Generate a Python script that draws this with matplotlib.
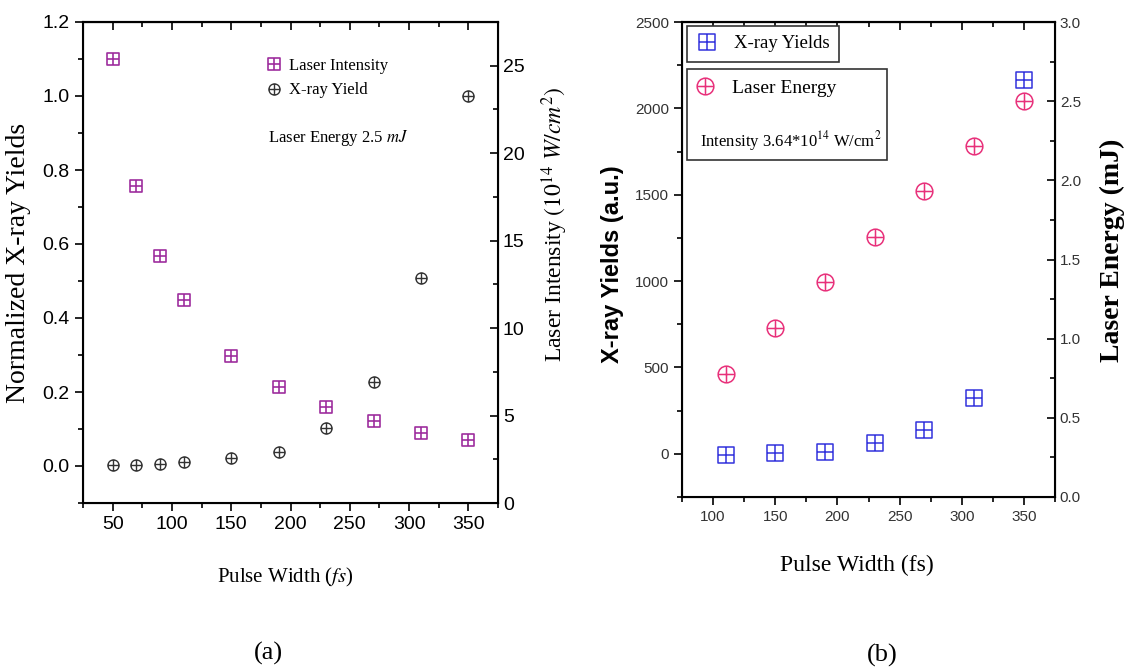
import matplotlib
matplotlib.use("Agg")
import matplotlib.pyplot as plt
from matplotlib.path import Path
from matplotlib.patches import Rectangle
from matplotlib.ticker import MultipleLocator

# (a) laser energy fixed at 2.5 mJ
pulse_a = [50, 70, 90, 110, 150, 190, 230, 270, 310, 350]
intensity_a = [25.4, 18.1, 14.1, 11.6, 8.4, 6.65, 5.5, 4.7, 4.0, 3.6]
yield_a = [0.003, 0.003, 0.005, 0.01, 0.021, 0.039, 0.104, 0.228, 0.509, 1.0]

# (b) intensity fixed at 3.64e14 W/cm2
pulse_b = [110, 150, 190, 230, 270, 310, 350]
yield_b = [-4, 2, 12, 60, 139, 324, 2167]
energy_b = [0.78, 1.07, 1.36, 1.64, 1.93, 2.22, 2.5]

SERIF = ["Liberation Serif", "DejaVu Serif"]
SANS = ["Liberation Sans", "DejaVu Sans"]
plt.rcParams["font.family"] = SERIF
plt.rcParams["mathtext.fontset"] = "stix"

M, L = Path.MOVETO, Path.LINETO
sq_plus = Path(
    [(-1, -1), (1, -1), (1, 1), (-1, 1), (-1, -1), (0, -1), (0, 1), (-1, 0), (1, 0)],
    [M, L, L, L, Path.CLOSEPOLY, M, L, M, L],
)
cross = Path([(0, -1), (0, 1), (-1, 0), (1, 0)], [M, L, M, L])
circ_plus = Path.make_compound_path(Path.unit_circle(), cross)

W, H = 1127, 670
fig = plt.figure(figsize=(W / 100, H / 100), dpi=100)


def rect(x0, y0, x1, y1):
    # pixel box -> figure fraction
    return [x0 / W, 1 - y1 / H, (x1 - x0) / W, (y1 - y0) / H]


def style_axes(ax, twin, xmaj, xmin, ymaj, ymin, y2maj, y2min, size, color):
    for sp in ax.spines.values():
        sp.set_linewidth(1.5)
    ax.xaxis.set_major_locator(MultipleLocator(xmaj))
    ax.xaxis.set_minor_locator(MultipleLocator(xmin))
    ax.yaxis.set_major_locator(MultipleLocator(ymaj))
    ax.yaxis.set_minor_locator(MultipleLocator(ymin))
    twin.yaxis.set_major_locator(MultipleLocator(y2maj))
    twin.yaxis.set_minor_locator(MultipleLocator(y2min))
    ax.tick_params(which="both", direction="out", top=False, width=1.2,
                   labelsize=size, labelcolor=color, labelfontfamily=SANS)
    ax.tick_params(which="major", length=6)
    ax.tick_params(which="minor", length=3.5)
    twin.tick_params(which="both", direction="in", width=1.2,
                     labelsize=size, labelcolor=color, labelfontfamily=SANS)
    twin.tick_params(which="major", length=6)
    twin.tick_params(which="minor", length=3.5)
    top = ax.secondary_xaxis("top")
    top.xaxis.set_major_locator(MultipleLocator(xmaj))
    top.xaxis.set_minor_locator(MultipleLocator(xmin))
    top.tick_params(which="both", direction="in", labeltop=False, width=1.2)
    top.tick_params(which="major", length=6)
    top.tick_params(which="minor", length=3.5)
    top.spines["top"].set_linewidth(1.5)


# ---------------- (a) ----------------
magenta = "#9E2F9E"
ax = fig.add_axes(rect(83, 22, 498, 503))
ax2 = ax.twinx()
ax.set_xlim(25, 375)
ax.set_ylim(-0.1, 1.2)
ax2.set_ylim(0, 27.5)
style_axes(ax, ax2, 50, 25, 0.2, 0.1, 5, 2.5, 14, "black")

h1, = ax2.plot(pulse_a, intensity_a, ls="none", marker=sq_plus, ms=9,
               mfc="none", mec=magenta, mew=1.2, label="Laser Intensity")
h2, = ax.plot(pulse_a, yield_a, ls="none", marker=circ_plus, ms=8,
              mfc="none", mec="#333333", mew=1.0, label="X-ray Yield")
ax2.legend([h1, h2], ["Laser Intensity", "X-ray Yield"], loc="upper left",
           bbox_to_anchor=(0.44, 0.925), frameon=False, borderpad=0,
           borderaxespad=0, handlelength=1.0, handletextpad=0.4,
           labelspacing=0.5, prop={"family": SERIF, "size": 12})
ax2.text(0.446, 0.759, "Laser Energy 2.5 $mJ$", transform=ax2.transAxes,
         ha="left", va="center", fontsize=12)

ax.set_ylabel("Normalized X-ray Yields", fontsize=20)
ax.yaxis.set_label_coords(-0.125, 0.5)
ax2.set_ylabel(r"Laser Intensity $(10^{14}\ W/cm^{2})$", fontsize=17)
ax2.yaxis.set_label_coords(1.1, 0.58)
ax.set_xlabel("Pulse Width ($fs$)", fontsize=15)
ax.xaxis.set_label_coords(0.487, -0.13)

# ---------------- (b) ----------------
blue = "#3333DD"
pink = "#E8307A"
bx = fig.add_axes(rect(682, 22, 1055, 497))
bx2 = bx.twinx()
bx.set_xlim(75, 375)
bx.set_ylim(-250, 2500)
bx2.set_ylim(0, 3.0)
style_axes(bx, bx2, 50, 25, 500, 250, 0.5, 0.25, 11, "#333333")

g1, = bx.plot(pulse_b, yield_b, ls="none", marker=sq_plus, ms=11,
              mfc="none", mec=blue, mew=1.1, label="X-ray Yields")
g2, = bx2.plot(pulse_b, energy_b, ls="none", marker=circ_plus, ms=12,
               mfc="none", mec=pink, mew=1.1, label="Laser Energy")

leg1 = bx2.legend([g1], ["X-ray Yields"], loc="upper left",
                  bbox_to_anchor=(0.013, 0.992), borderaxespad=0,
                  fancybox=False, framealpha=1, edgecolor="#333333",
                  handlelength=1.2, handletextpad=0.8, borderpad=0.5,
                  prop={"family": SERIF, "size": 13.5})
leg1.get_frame().set_linewidth(1.2)
bx2.add_artist(leg1)

bx2.add_patch(Rectangle((0.013, 0.709), 0.537, 0.192, transform=bx2.transAxes,
                        facecolor="white", edgecolor="#333333", lw=1.2,
                        zorder=5))
leg2 = bx2.legend([g2], ["Laser Energy"], loc="upper left",
                  bbox_to_anchor=(0.03, 0.88), frameon=False, borderpad=0,
                  borderaxespad=0, handlelength=1.2, handletextpad=0.8,
                  prop={"family": SERIF, "size": 14})
leg2.set_zorder(7)
bx2.text(0.048, 0.749, r"Intensity 3.64*10$^{14}$ W/cm$^{2}$",
         transform=bx2.transAxes, ha="left", va="center", fontsize=12,
         zorder=7)

bx.set_ylabel("X-ray Yields (a.u.)", fontsize=17, fontweight="bold",
              fontfamily=SANS)
bx.yaxis.set_label_coords(-0.155, 0.49)
bx2.set_ylabel("Laser Energy (mJ)", fontsize=20, fontweight="bold")
bx2.yaxis.set_label_coords(1.12, 0.52)
bx.set_xlabel("Pulse Width (fs)", fontsize=17)
bx.xaxis.set_label_coords(0.47, -0.122)

fig.text(268 / W, 1 - 653 / H, "(a)", fontsize=19, ha="center", va="center")
fig.text(882 / W, 1 - 655 / H, "(b)", fontsize=19, ha="center", va="center")

fig.savefig("out.png", dpi=100)
